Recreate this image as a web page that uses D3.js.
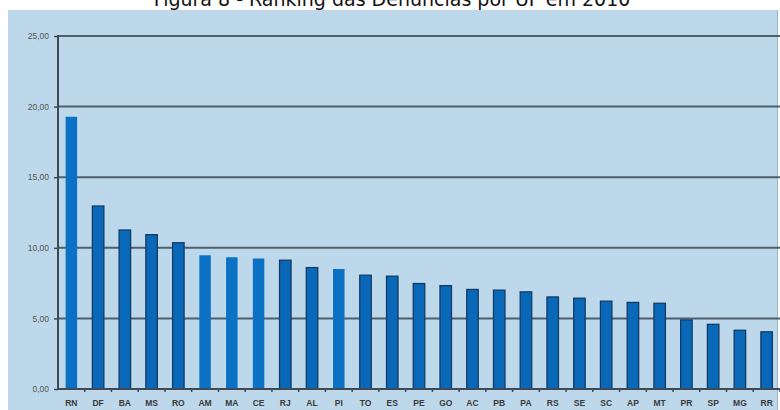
<!DOCTYPE html>
<html lang="pt-BR">
<head>
<meta charset="UTF-8">
<title>Ranking das Denúncias por UF</title>
<script src="https://cdn.jsdelivr.net/npm/d3@7"></script>
<style>
    body { margin: 0; background: #fff; }
    svg { display: block; }
    .title { font: 19px "DejaVu Sans", sans-serif; fill: #111; }
    .ylab text { font: 8.5px "Liberation Sans", Arial, sans-serif; fill: #555; }
    .xlab text { font: bold 8.5px "Liberation Sans", Arial, sans-serif; fill: #3a3a3a; }
</style>
</head>
<body>
<svg width="780" height="410"></svg>
<script>
// valores (denuncias por UF, 2010)
var ufs = ["RN", "DF", "BA", "MS", "RO", "AM", "MA", "CE", "RJ", "AL", "PI", "TO", "ES", "PE",
           "GO", "AC", "PB", "PA", "RS", "SE", "SC", "AP", "MT", "PR", "SP", "MG", "RR"];
var valores = [19.28, 12.96, 11.26, 10.93, 10.36, 9.47, 9.33, 9.24, 9.12, 8.60, 8.50, 8.06, 7.99, 7.47,
               7.32, 7.05, 7.00, 6.88, 6.52, 6.43, 6.22, 6.13, 6.07, 4.89, 4.58, 4.16, 4.05];
var yTicks = [0, 5, 10, 15, 20, 25];
var titulo = "Figura 8 - Ranking das Denúncias por UF em 2010";

// barras sem contorno escuro
var semContorno = ["RN", "AM", "MA", "CE", "PI"];

(function () {
    var svg = d3.select("svg");
    var left = 58, right = 780, plotTop = 36, bottom = 389;

    // fundo azul
    svg.append("rect")
        .attr("x", 8).attr("y", 10)
        .attr("width", 770).attr("height", 410)
        .attr("fill", "#bcd8ea");
    svg.append("line")
        .attr("x1", 777.5).attr("x2", 777.5).attr("y1", 10).attr("y2", 410)
        .attr("stroke", "#9ab4c6").attr("stroke-width", 1);

    svg.append("text")
        .attr("class", "title")
        .attr("x", 392).attr("y", 6)
        .attr("text-anchor", "middle")
        .text(titulo);

    var x = d3.scaleBand()
        .domain(ufs)
        .range([left, right])
        .paddingInner(0.57)
        .paddingOuter(0.285);

    var y = d3.scaleLinear()
        .domain([0, 25])
        .range([bottom, plotTop]);

    // linhas de grade
    svg.append("g")
        .selectAll("line")
        .data(yTicks.filter(function (d) { return d > 0; }))
        .enter().append("line")
        .attr("x1", left).attr("x2", right)
        .attr("y1", function (d) { return y(d); })
        .attr("y2", function (d) { return y(d); })
        .attr("stroke", "#4f5f6d")
        .attr("stroke-width", 2);

    // eixo y
    var yAxis = d3.axisLeft(y)
        .tickValues(yTicks)
        .tickSize(4)
        .tickPadding(5)
        .tickFormat(function (d) { return d3.format(".2f")(d).replace(".", ","); });

    var gy = svg.append("g")
        .attr("class", "ylab")
        .attr("transform", "translate(" + left + ",0)")
        .call(yAxis);
    gy.select(".domain").remove();
    gy.selectAll("line").attr("stroke", "#3d4a55").attr("stroke-width", 1.5);

    // barras
    var step = x.step();
    svg.append("g")
        .selectAll("rect")
        .data(ufs)
        .enter().append("rect")
        .attr("x", function (d) { return x(d); })
        .attr("width", x.bandwidth())
        .attr("y", function (d, i) { return y(valores[i]); })
        .attr("height", function (d, i) { return bottom - y(valores[i]); })
        .attr("fill", function (d) { return semContorno.indexOf(d) >= 0 ? "#0b71c4" : "#0a68b8"; })
        .attr("stroke", function (d) { return semContorno.indexOf(d) >= 0 ? "none" : "#123c68"; })
        .attr("stroke-width", 1.3);

    // eixo x (rotulos)
    var xAxis = d3.axisBottom(x).tickSize(0).tickPadding(11);
    var gx = svg.append("g")
        .attr("class", "xlab")
        .attr("transform", "translate(0," + bottom + ")")
        .call(xAxis);
    gx.select(".domain").remove();

    // marcas entre categorias
    svg.append("g")
        .selectAll("line")
        .data(ufs)
        .enter().append("line")
        .attr("x1", function (d) { return x(d) + x.bandwidth() / 2 + step / 2; })
        .attr("x2", function (d) { return x(d) + x.bandwidth() / 2 + step / 2; })
        .attr("y1", bottom).attr("y2", bottom + 3)
        .attr("stroke", "#3d4a55")
        .attr("stroke-width", 1.5);

    // linha do eixo x e do eixo y
    svg.append("line")
        .attr("x1", left).attr("x2", right)
        .attr("y1", bottom).attr("y2", bottom)
        .attr("stroke", "#3d4a55").attr("stroke-width", 2);
    svg.append("line")
        .attr("x1", left).attr("x2", left)
        .attr("y1", plotTop - 1).attr("y2", bottom + 1)
        .attr("stroke", "#3d4a55").attr("stroke-width", 2);
})();
</script>
</body>
</html>
